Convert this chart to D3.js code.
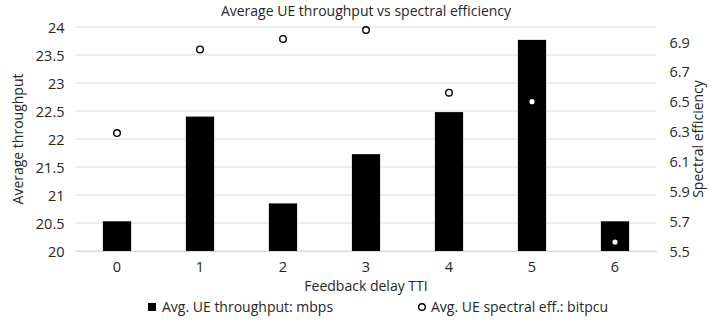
<!DOCTYPE html>
<html>
<head>
<meta charset="utf-8">
<script src="https://cdn.jsdelivr.net/npm/d3@7"></script>
<style>
  body { margin: 0; background: #fff; }
  svg text { font-family: "Open Sans", "Liberation Sans", sans-serif; fill: #262626; }
</style>
</head>
<body>
<svg width="712" height="328"></svg>
<script>
// data
var delays = ['0', '1', '2', '3', '4', '5', '6']
var throughput = [20.53, 22.40, 20.85, 21.73, 22.48, 23.77, 20.53]
var spectralEff = [6.29, 6.85, 6.92, 6.98, 6.56, 6.50, 5.56]
var leftTicks = [20, 20.5, 21, 21.5, 22, 22.5, 23, 23.5, 24]
var rightTicks = [5.5, 5.7, 5.9, 6.1, 6.3, 6.5, 6.7, 6.9]

var svg = d3.select('svg'),
    plotLeft = 75.5, plotRight = 656.5, plotTop = 27, plotBottom = 251

var x = d3.scaleBand().domain(delays).range([plotLeft, plotRight])
var y = d3.scaleLinear().domain([20, 24]).range([plotBottom, plotTop])
var y2 = d3.scaleLinear().domain([5.5, 7.0]).range([plotBottom, plotTop])

// gridlines
svg.append('g')
  .selectAll('line')
  .data(leftTicks)
  .enter().append('line')
    .attr('x1', plotLeft).attr('x2', plotRight)
    .attr('y1', function(d) { return y(d) })
    .attr('y2', function(d) { return y(d) })
    .attr('stroke', '#d9d9d9')
    .attr('stroke-width', 1)

// left axis
var gl = svg.append('g')
    .attr('transform', 'translate(' + (plotLeft - 8) + ',0)')
    .call(d3.axisLeft(y).tickValues(leftTicks).tickSize(0).tickFormat(d3.format('')))
gl.select('.domain').remove()
gl.selectAll('text').attr('font-size', 14.5).attr('dy', '0.35em')

// right axis
var gr = svg.append('g')
    .attr('transform', 'translate(' + (plotRight + 10) + ',0)')
    .call(d3.axisRight(y2).tickValues(rightTicks).tickSize(0).tickFormat(d3.format('.1f')))
gr.select('.domain').remove()
gr.selectAll('text').attr('font-size', 14.5).attr('dy', '0.35em')

// bottom axis
var gb = svg.append('g')
    .attr('transform', 'translate(0,' + plotBottom + ')')
    .call(d3.axisBottom(x).tickSize(0).tickPadding(11))
gb.select('.domain').attr('stroke', '#d9d9d9')
gb.selectAll('text').attr('font-size', 14.5)

// bars
var bw = x.bandwidth() * 0.34
svg.append('g')
  .selectAll('rect')
  .data(throughput)
  .enter().append('rect')
    .attr('x', function(d, i) { return x(delays[i]) + x.bandwidth() / 2 - bw / 2 })
    .attr('y', function(d) { return y(d) })
    .attr('width', bw)
    .attr('height', function(d) { return plotBottom - y(d) })
    .attr('fill', '#000')

// points
svg.append('g')
  .selectAll('circle')
  .data(spectralEff)
  .enter().append('circle')
    .attr('cx', function(d, i) { return x(delays[i]) + x.bandwidth() / 2 })
    .attr('cy', function(d) { return y2(d) })
    .attr('r', 3.3)
    .attr('fill', '#fff')
    .attr('stroke', '#000')
    .attr('stroke-width', 1.4)

// titles
svg.append('text')
    .attr('x', 366).attr('y', 16)
    .attr('text-anchor', 'middle')
    .attr('font-size', 14)
    .text('Average UE throughput vs spectral efficiency')

svg.append('text')
    .attr('transform', 'translate(23,139) rotate(-90)')
    .attr('text-anchor', 'middle')
    .attr('font-size', 14)
    .text('Average throughput')

svg.append('text')
    .attr('transform', 'translate(703,139) rotate(-90)')
    .attr('text-anchor', 'middle')
    .attr('font-size', 14)
    .text('Spectral efficiency')

svg.append('text')
    .attr('x', 366).attr('y', 291)
    .attr('text-anchor', 'middle')
    .attr('font-size', 14)
    .text('Feedback delay TTI')

// legend
var lg = svg.append('g')
lg.append('rect')
    .attr('x', 148).attr('y', 303).attr('width', 8).attr('height', 8)
    .attr('fill', '#000')
lg.append('text')
    .attr('x', 162).attr('y', 312)
    .attr('font-size', 14)
    .text('Avg. UE throughput: mbps')
lg.append('circle')
    .attr('cx', 422).attr('cy', 307).attr('r', 3.3)
    .attr('fill', '#fff').attr('stroke', '#000').attr('stroke-width', 1.4)
lg.append('text')
    .attr('x', 431).attr('y', 312)
    .attr('font-size', 14)
    .text('Avg. UE spectral eff.: bitpcu')
</script>
</body>
</html>
